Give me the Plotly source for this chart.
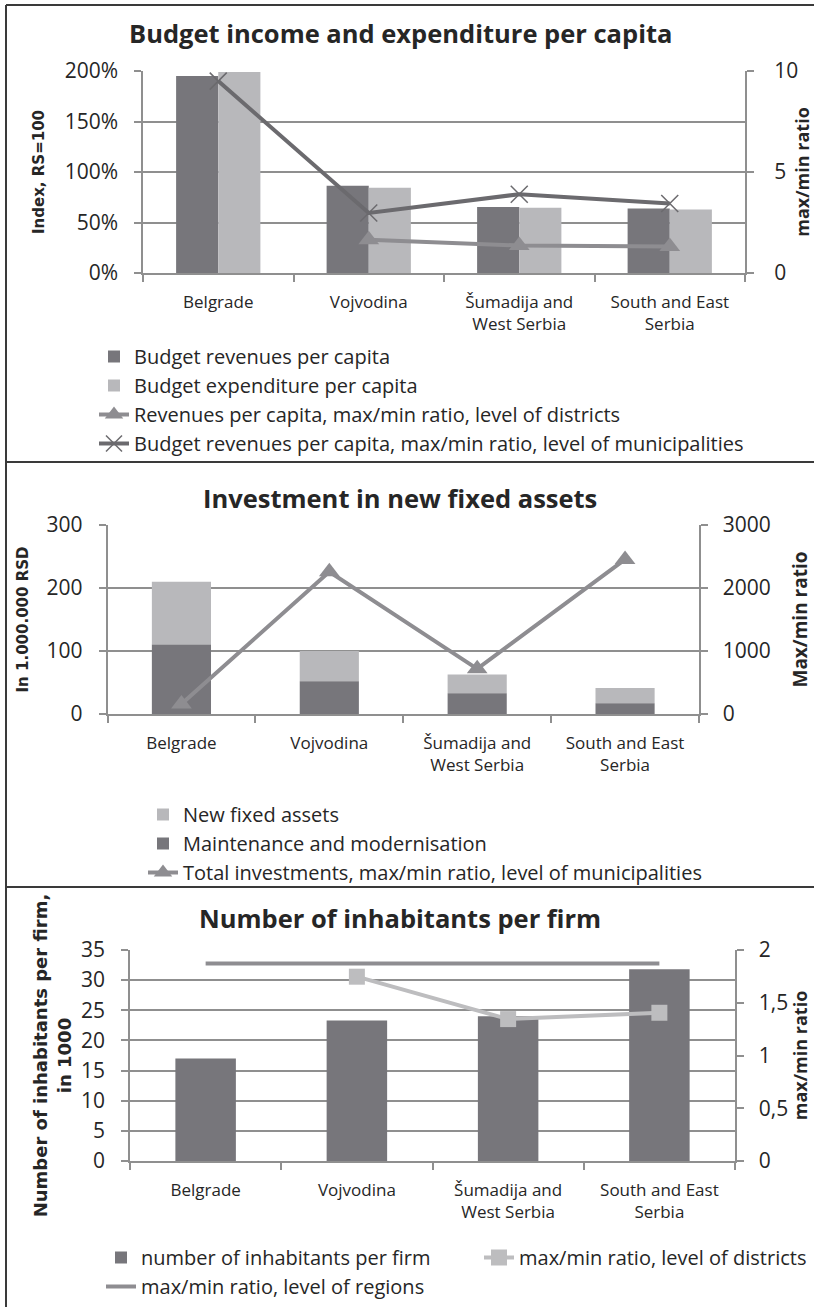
import plotly.graph_objects as go

W, H = 814, 1307

# ---------------- data ----------------
categories = ["Belgrade", "Vojvodina", "Šumadija and<br>West Serbia", "South and East<br>Serbia"]

# Panel 1: Budget income and expenditure per capita (index RS=100, %)
budget_revenues = [195, 86.4, 65.4, 63.8]
budget_expenditure = [199, 84.4, 64.5, 62.8]
rev_ratio_districts = [None, 1.64, 1.36, 1.31]
rev_ratio_municipalities = [9.5, 2.97, 3.9, 3.44]

# Panel 2: Investment in new fixed assets (1.000.000 RSD)
maintenance = [110.5, 52, 33, 17]
new_fixed_assets = [99.5, 48, 29.7, 24.4]
invest_ratio_municipalities = [159, 2257, 717, 2453]

# Panel 3: Number of inhabitants per firm (in 1000)
inhabitants_per_firm = [17.0, 23.3, 24.0, 31.8]
firm_ratio_districts = [None, 1.747, 1.345, 1.405]
firm_ratio_regions = [1.873, 1.873, 1.873, 1.873]
right3_tickvals = [0, 0.5, 1, 1.5, 2]
right3_ticktext = ["0", "0,5", "1", "1,5", "2"]

# ---------------- styles ----------------
DARK = "#77767b"
LIGHT = "#b8b8bb"
GRID = "#8f8f8f"
TXT = "#262626"
FONT = "Open Sans"
BOLDT = "DejaVu Sans"
PAD3 = "\u00a0\u00a0\u00a0"   # gap between right axis and its tick labels
PAD2 = "\u00a0\u00a0"


def px_x(p):
    return p / W


def px_y(p):
    return 1 - p / H


fig = go.Figure()

# ---- panel 1 ----
fig.add_trace(go.Bar(x=categories, y=budget_revenues, name="Budget revenues per capita",
                     marker=dict(color=DARK, line_width=0), width=0.28, offset=-0.28,
                     xaxis="x", yaxis="y", legend="legend"))
fig.add_trace(go.Bar(x=categories, y=budget_expenditure, name="Budget expenditure per capita",
                     marker=dict(color=LIGHT, line_width=0), width=0.28, offset=0.0,
                     xaxis="x", yaxis="y", legend="legend"))
fig.add_trace(go.Scatter(x=categories, y=rev_ratio_districts,
                         name="Revenues per capita, max/min ratio, level of districts",
                         mode="lines+markers", line=dict(color="#8e8d91", width=4),
                         marker=dict(symbol="triangle-up", size=18, color="#8e8d91"),
                         xaxis="x", yaxis="y2", legend="legend"))
fig.add_trace(go.Scatter(x=categories, y=rev_ratio_municipalities,
                         name="Budget revenues per capita, max/min ratio, level of municipalities",
                         mode="lines+markers", line=dict(color="#6b6a6e", width=4),
                         marker=dict(symbol="x-thin", size=17, color="#6b6a6e",
                                     line=dict(color="#6b6a6e", width=1.5)),
                         xaxis="x", yaxis="y2", legend="legend"))

# ---- panel 2 ----
fig.add_trace(go.Bar(x=categories, y=new_fixed_assets, base=maintenance, name="New fixed assets",
                     marker=dict(color=LIGHT, line_width=0), width=0.4, offset=-0.2,
                     xaxis="x2", yaxis="y3", legend="legend2"))
fig.add_trace(go.Bar(x=categories, y=maintenance, name="Maintenance and modernisation",
                     marker=dict(color=DARK, line_width=0), width=0.4, offset=-0.2,
                     xaxis="x2", yaxis="y3", legend="legend2"))
fig.add_trace(go.Scatter(x=categories, y=invest_ratio_municipalities,
                         name="Total investments, max/min ratio, level of municipalities",
                         mode="lines+markers", line=dict(color="#8e8d91", width=4),
                         marker=dict(symbol="triangle-up", size=18, color="#8e8d91"),
                         xaxis="x2", yaxis="y4", legend="legend2"))

# ---- panel 3 ----
fig.add_trace(go.Bar(x=categories, y=inhabitants_per_firm, name="number of inhabitants per firm",
                     marker=dict(color=DARK, line_width=0), width=0.4, offset=-0.2,
                     xaxis="x3", yaxis="y5", legend="legend3"))
fig.add_trace(go.Scatter(x=categories, y=firm_ratio_districts,
                         name="max/min ratio, level of districts",
                         mode="lines+markers", line=dict(color="#bdbdbf", width=4),
                         marker=dict(symbol="square", size=16, color="#bdbdbf"),
                         xaxis="x3", yaxis="y6", legend="legend4"))
fig.add_trace(go.Scatter(x=categories, y=firm_ratio_regions,
                         name="max/min ratio, level of regions",
                         mode="lines", line=dict(color="#8e8d91", width=4),
                         xaxis="x3", yaxis="y6", legend="legend3"))

tickfont = dict(family=FONT, size=21, color=TXT)
catfont = dict(family=FONT, size=17, color=TXT)

xcommon = dict(type="category", showline=True, linecolor=GRID, linewidth=1.5,
               ticks="outside", tickson="boundaries", ticklen=7, tickcolor=GRID, tickwidth=1.5,
               tickfont=catfont, showgrid=False, fixedrange=True, automargin=False,
               ticklabelstandoff=13)
ycommon = dict(showline=True, linecolor=GRID, linewidth=1.5, ticks="outside", ticklen=7,
               tickcolor=GRID, tickwidth=1.5, tickfont=tickfont, showgrid=True,
               gridcolor=GRID, gridwidth=1.5, zeroline=False, automargin=False,
               ticklabelstandoff=12, fixedrange=True)
yright = dict(showline=True, linecolor=GRID, linewidth=1.5, ticks="outside", ticklen=7,
              tickcolor=GRID, tickwidth=1.5, tickfont=tickfont, showgrid=False, zeroline=False,
              automargin=False, fixedrange=True)
rtitle = dict(family=FONT, size=18, color=TXT, weight="bold")
legfont = dict(family=FONT, size=20, color=TXT)

fig.update_layout(
    width=W, height=H, margin=dict(l=0, r=0, t=0, b=0),
    paper_bgcolor="white", plot_bgcolor="white",
    barmode="group", showlegend=True,
    xaxis=dict(domain=[px_x(143), px_x(745)], anchor="y", **xcommon),
    yaxis=dict(domain=[px_y(273), px_y(71)], anchor="x", range=[0, 200], dtick=50, ticksuffix="%",
               title=dict(text="Index, RS=100", font=dict(family=BOLDT, size=15, color=TXT, weight="bold"),
                          standoff=16), **ycommon),
    yaxis2=dict(overlaying="y", side="right", anchor="x", range=[0, 10], dtick=5, tickprefix=PAD3,
                title=dict(text="max/min ratio", font=rtitle, standoff=2), **yright),
    xaxis2=dict(domain=[px_x(107.5), px_x(699)], anchor="y3", **xcommon),
    yaxis3=dict(domain=[px_y(714), px_y(525)], anchor="x2", range=[0, 300], dtick=100,
                title=dict(text="In 1.000.000 RSD", font=dict(family=BOLDT, size=15, color=TXT, weight="bold"),
                           standoff=14), **ycommon),
    yaxis4=dict(overlaying="y3", side="right", anchor="x2", range=[0, 3000], dtick=1000, tickprefix=PAD2,
                title=dict(text="Max/min ratio", font=dict(family=FONT, size=19, color=TXT, weight="bold"),
                           standoff=24), **yright),
    xaxis3=dict(domain=[px_x(130), px_x(735)], anchor="y5", **xcommon),
    yaxis5=dict(domain=[px_y(1161), px_y(950)], anchor="x3", range=[0, 35], dtick=5,
                title=dict(text="Number of inhabitants per firm,<br>in 1000",
                           font=dict(family=BOLDT, size=18, color=TXT, weight="bold"), standoff=5),
                **ycommon),
    yaxis6=dict(overlaying="y5", side="right", anchor="x3", range=[0, 2],
                tickvals=right3_tickvals, ticktext=[PAD2 + t for t in right3_ticktext],
                title=dict(text="max/min ratio", font=rtitle, standoff=7), **yright),
    legend=dict(x=px_x(94), y=px_y(337), xanchor="left", yanchor="top", orientation="v",
                font=legfont, bgcolor="rgba(0,0,0,0)",
                tracegroupgap=0, traceorder="normal", itemwidth=30),
    legend2=dict(x=px_x(143), y=px_y(795), xanchor="left", yanchor="top", orientation="v",
                 font=legfont, bgcolor="rgba(0,0,0,0)",
                 tracegroupgap=0, traceorder="normal", itemwidth=30),
    legend3=dict(x=px_x(101), y=px_y(1238), xanchor="left", yanchor="top", orientation="v",
                 font=legfont, bgcolor="rgba(0,0,0,0)",
                 tracegroupgap=0, traceorder="normal", itemwidth=30),
    legend4=dict(x=px_x(479), y=px_y(1238), xanchor="left", yanchor="top", orientation="v",
                 font=legfont, bgcolor="rgba(0,0,0,0)",
                 tracegroupgap=0, traceorder="normal", itemwidth=30),
)

# titles
titles = [("Budget income and expenditure per capita", 33),
          ("Investment in new fixed assets", 498),
          ("Number of inhabitants per firm", 918)]
for txt, yc in titles:
    fig.add_annotation(text=txt, x=px_x(400), y=px_y(yc), xref="paper", yref="paper",
                       xanchor="center", yanchor="middle", showarrow=False,
                       font=dict(family=FONT, size=25.5, color=TXT, weight="bold"))

# frame lines
frame = "#3a3a3a"
fig.add_shape(type="line", xref="paper", yref="paper", x0=px_x(6), x1=px_x(6), y0=0, y1=px_y(5),
              line=dict(color=frame, width=2))
for yy in [5, 462, 887]:
    fig.add_shape(type="line", xref="paper", yref="paper", x0=px_x(6), x1=1, y0=px_y(yy), y1=px_y(yy),
                  line=dict(color=frame, width=2))

fig.write_html("out.html", config={"displayModeBar": False},
               post_script="document.body.style.margin='0';document.body.style.overflow='hidden';")
